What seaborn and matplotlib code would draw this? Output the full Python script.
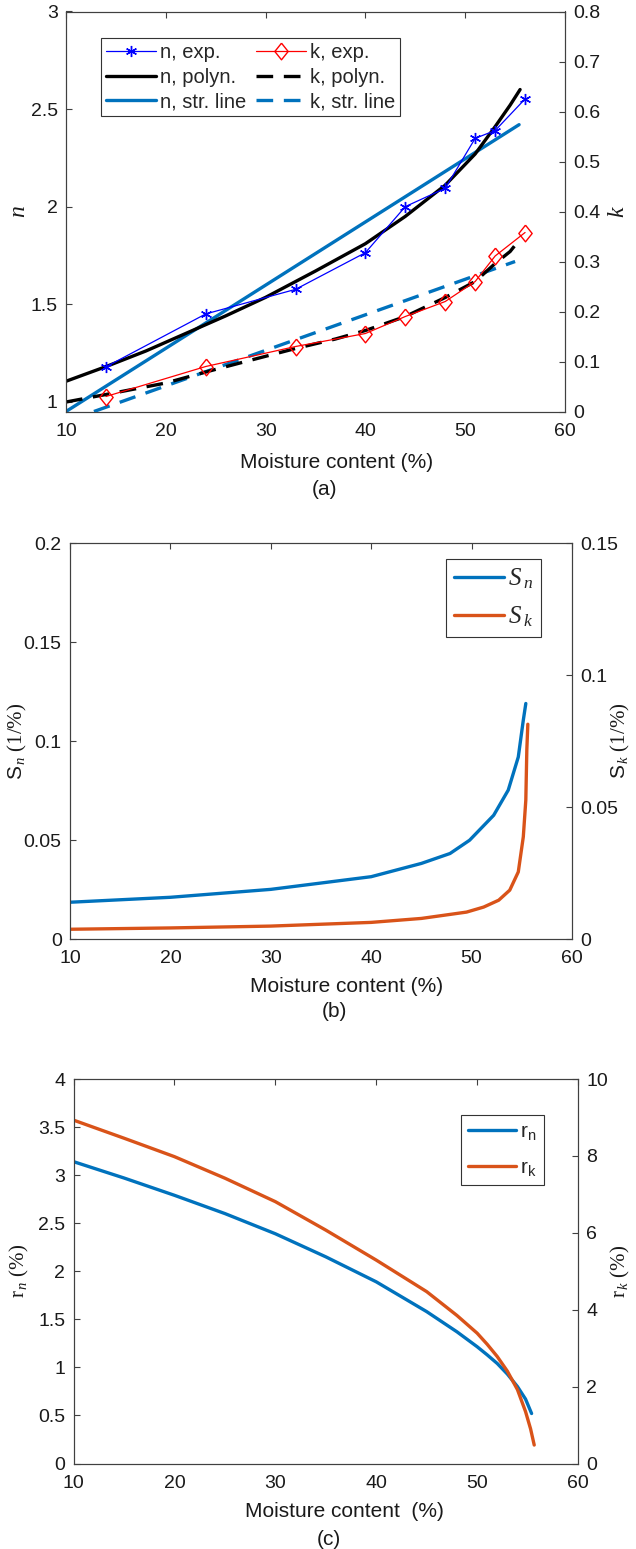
import matplotlib
matplotlib.use("Agg")
import matplotlib.pyplot as plt
from matplotlib.lines import Line2D
import seaborn as sns

# ---------------- data ----------------
# (a) refractive index n and extinction coefficient k vs moisture content
moist_exp = [14, 24, 33, 40, 44, 48, 51, 53, 56]
n_exp = [1.179, 1.45, 1.576, 1.764, 2.00, 2.094, 2.35, 2.39, 2.552]
k_exp = [0.030, 0.090, 0.130, 0.156, 0.190, 0.220, 0.260, 0.311, 0.358]

moist_n_poly = [10, 14, 18, 22, 26, 30, 35, 40, 44, 48, 51, 53, 54.5, 55.5]
n_poly = [1.105, 1.18, 1.26, 1.35, 1.44, 1.535, 1.67, 1.81, 1.95, 2.11, 2.27, 2.41, 2.52, 2.60]

moist_k_poly = [10, 14, 20, 24, 28, 33, 37, 40, 44, 48, 51, 53, 54.5, 55.5]
k_poly = [0.019, 0.034, 0.057, 0.079, 0.100, 0.126, 0.145, 0.162, 0.190, 0.228, 0.260, 0.296, 0.320, 0.345]

moist_n_line = [10, 55.4]
n_line = [0.95, 2.42]
moist_k_line = [12.8, 55.0]
k_line = [0.0, 0.30]

# (b) sensitivities
moist_sn = [10, 20, 30, 40, 45, 47.85, 49.8, 52.2, 53.65, 54.65, 55.15, 55.4]
s_n = [0.0187, 0.0212, 0.0252, 0.0316, 0.0383, 0.0433, 0.050, 0.0626, 0.0753, 0.092, 0.1106, 0.119]
moist_sk = [10, 20, 30, 40, 45, 49.5, 51.2, 52.7, 53.8, 54.65, 55.15, 55.4, 55.5, 55.6]
s_k = [0.0038, 0.0043, 0.0050, 0.0064, 0.0079, 0.0103, 0.0122, 0.0148, 0.0186, 0.0255, 0.0388, 0.0527, 0.0716, 0.0814]

# (c) relative errors
moist_rn = [10, 15, 20, 25, 30, 35, 40, 45, 48, 50, 51, 52, 53, 54, 54.8, 55.4]
r_n = [3.14, 2.97, 2.79, 2.60, 2.39, 2.15, 1.89, 1.58, 1.37, 1.215, 1.13, 1.04, 0.93, 0.80, 0.67, 0.52]
moist_rk = [10, 15, 20, 25, 30, 35, 40, 45, 48, 50, 51, 52, 53, 54, 54.8, 55.3, 55.66]
r_k = [8.93, 8.46, 7.98, 7.42, 6.81, 6.07, 5.29, 4.47, 3.85, 3.39, 3.10, 2.78, 2.40, 1.92, 1.35, 0.90, 0.48]

x_ticks = [10, 20, 30, 40, 50, 60]

# ---------------- style ----------------
sns.set_theme(style="white")
plt.rcParams.update({
    "font.family": ["Liberation Sans", "DejaVu Sans"],
    "mathtext.fontset": "custom",
    "mathtext.rm": "Liberation Serif",
    "mathtext.it": "Liberation Serif:italic",
    "mathtext.sf": "Liberation Sans",
    "axes.edgecolor": "#404040",
    "axes.linewidth": 0.8,
    "xtick.color": "#404040",
    "ytick.color": "#404040",
    "xtick.labelcolor": "#1a1a1a",
    "ytick.labelcolor": "#1a1a1a",
    "xtick.labelsize": 14,
    "ytick.labelsize": 14,
})

BLUE = "#0072BD"
ORANGE = "#D95319"
TXT = "#1a1a1a"
DIAMOND = [(0, 1), (0.8, 0), (0, -1), (-0.8, 0), (0, 1)]

fig = plt.figure(figsize=(6.36, 15.49), dpi=100)
W, H = 636.0, 1549.0


def make_axes(left, right, top, bottom):
    return fig.add_axes([left / W, 1 - bottom / H, (right - left) / W, (bottom - top) / H])


def style_pair(ax, ax2):
    ax.tick_params(axis="x", direction="in", top=True, length=4, width=0.8, pad=8)
    ax.tick_params(axis="y", direction="in", left=True, right=False, length=4, width=0.8, pad=6)
    ax2.tick_params(axis="y", direction="in", right=True, left=False, length=4, width=0.8, pad=6)
    ax.set_xlim(10, 60)
    ax.set_xticks(x_ticks)
    ax.set_xticklabels([str(v) for v in x_ticks])
    for a in (ax, ax2):
        for s in a.spines.values():
            s.set_visible(True)
            s.set_color("#404040")
            s.set_linewidth(0.8)


def bottom_labels(ax, xlab, xpos, lab_off, tag, tag_x, tag_off, height):
    ax.text(xpos, -lab_off / height, xlab, transform=ax.transAxes, ha="center",
            va="center", fontsize=15, color=TXT)
    ax.text(tag_x, -tag_off / height, tag, transform=ax.transAxes, ha="center",
            va="center", fontsize=15, color=TXT)


def frame(leg):
    leg.get_frame().set_linewidth(0.8)
    leg.get_frame().set_edgecolor("#333333")


# ================= (a) =================
axa = make_axes(66, 565, 11.5, 411.5)
axa2 = axa.twinx()
style_pair(axa, axa2)

sns.lineplot(x=moist_n_line, y=n_line, ax=axa, color=BLUE, lw=2.4, sort=False, estimator=None)
sns.lineplot(x=moist_n_poly, y=n_poly, ax=axa, color="black", lw=2.4, sort=False, estimator=None)
sns.lineplot(x=moist_exp, y=n_exp, ax=axa, color="#0000FF", lw=0.9, marker=(6, 2, 0),
             markersize=8, markeredgewidth=1.0, markeredgecolor="#0000FF", sort=False, estimator=None)

sns.lineplot(x=moist_k_line, y=k_line, ax=axa2, color=BLUE, lw=2.4, sort=False, estimator=None)
axa2.lines[-1].set_dashes([5, 3.2])
sns.lineplot(x=moist_k_poly, y=k_poly, ax=axa2, color="black", lw=2.4, sort=False, estimator=None)
axa2.lines[-1].set_dashes([5, 3.2])
sns.lineplot(x=moist_exp, y=k_exp, ax=axa2, color="#FF0000", lw=0.9, marker=DIAMOND,
             markersize=12, markerfacecolor="none", markeredgecolor="#FF0000",
             markeredgewidth=1.0, sort=False, estimator=None)

axa.set_ylim(0.95, 3)
axa.set_yticks([1, 1.5, 2, 2.5, 3])
axa.set_yticklabels(["1", "1.5", "2", "2.5", "3"])
axa2.set_ylim(0, 0.8)
axa2.set_yticks([0, 0.1, 0.2, 0.3, 0.4, 0.5, 0.6, 0.7, 0.8])
axa2.set_yticklabels(["0", "0.1", "0.2", "0.3", "0.4", "0.5", "0.6", "0.7", "0.8"])
axa.set_ylabel(r"$n$", fontsize=17, color=TXT)
axa.yaxis.set_label_coords(-0.072, 0.5)
axa2.set_ylabel(r"$k$", fontsize=17, color=TXT, rotation=90)
axa2.yaxis.set_label_coords(1.085, 0.5)
bottom_labels(axa, "Moisture content (%)", 0.543, 51, "(a)", 0.519, 78, 400)

handles_a = [
    Line2D([], [], color="#0000FF", lw=0.9, marker=(6, 2, 0), markersize=8, markeredgewidth=1.0),
    Line2D([], [], color="black", lw=2.4),
    Line2D([], [], color=BLUE, lw=2.4),
    Line2D([], [], color="#FF0000", lw=0.9, marker=DIAMOND, markersize=12, markerfacecolor="none",
           markeredgewidth=1.0),
    Line2D([], [], color="black", lw=2.4, dashes=[5, 3.2]),
    Line2D([], [], color=BLUE, lw=2.4, dashes=[5, 3.2]),
]
labels_a = ["n, exp.", "n, polyn.", "n, str. line", "k, exp.", "k, polyn.", "k, str. line"]
leg = axa2.legend(handles_a, labels_a, ncol=2, loc="upper left", bbox_to_anchor=(0.070, 0.934),
                  borderaxespad=0, fontsize=14.5, frameon=True, fancybox=False, framealpha=1,
                  handlelength=2.5, handletextpad=0.2, columnspacing=0.45,
                  labelspacing=0.28, borderpad=0.25)
frame(leg)

# ================= (b) =================
axb = make_axes(70, 572, 543, 939.3)
axb2 = axb.twinx()
style_pair(axb, axb2)
sns.lineplot(x=moist_sn, y=s_n, ax=axb, color=BLUE, lw=2.4, sort=False, estimator=None)
sns.lineplot(x=moist_sk, y=s_k, ax=axb2, color=ORANGE, lw=2.4, sort=False, estimator=None)
axb.set_ylim(0, 0.2)
axb.set_yticks([0, 0.05, 0.1, 0.15, 0.2])
axb.set_yticklabels(["0", "0.05", "0.1", "0.15", "0.2"])
axb2.set_ylim(0, 0.15)
axb2.set_yticks([0, 0.05, 0.1, 0.15])
axb2.set_yticklabels(["0", "0.05", "0.1", "0.15"])
axb.set_ylabel(r"$\mathsf{S}_{\,n}\ \mathrm{(1/\%)}$", fontsize=15, color=TXT)
axb.yaxis.set_label_coords(-0.082, 0.5)
axb2.set_ylabel(r"$\mathsf{S}_{\,k}\ \mathrm{(1/\%)}$", fontsize=15, color=TXT, rotation=90)
axb2.yaxis.set_label_coords(1.074, 0.5)
bottom_labels(axb, "Moisture content (%)", 0.55, 47, "(b)", 0.527, 72, 396.3)
handles_b = [Line2D([], [], color=BLUE, lw=2.4), Line2D([], [], color=ORANGE, lw=2.4)]
leg = axb2.legend(handles_b, [r"$S\,_{n}$", r"$S\,_{k}$"], loc="upper right",
                  bbox_to_anchor=(0.938, 0.96), borderaxespad=0, fontsize=18, frameon=True,
                  fancybox=False, framealpha=1, handlelength=2.0,
                  handletextpad=0.15, labelspacing=0.55, borderpad=0.3)
frame(leg)

# ================= (c) =================
axc = make_axes(73.6, 578, 1079, 1463.5)
axc2 = axc.twinx()
style_pair(axc, axc2)
sns.lineplot(x=moist_rn, y=r_n, ax=axc, color=BLUE, lw=2.4, sort=False, estimator=None)
sns.lineplot(x=moist_rk, y=r_k, ax=axc2, color=ORANGE, lw=2.4, sort=False, estimator=None)
axc.set_ylim(0, 4)
axc.set_yticks([0, 0.5, 1, 1.5, 2, 2.5, 3, 3.5, 4])
axc.set_yticklabels(["0", "0.5", "1", "1.5", "2", "2.5", "3", "3.5", "4"])
axc2.set_ylim(0, 10)
axc2.set_yticks([0, 2, 4, 6, 8, 10])
axc2.set_yticklabels(["0", "2", "4", "6", "8", "10"])
axc.set_ylabel(r"$\mathrm{r}_{\,n}\ \mathrm{(\%)}$", fontsize=15, color=TXT)
axc.yaxis.set_label_coords(-0.084, 0.5)
axc2.set_ylabel(r"$\mathrm{r}_{\,k}\ \mathrm{(\%)}$", fontsize=15, color=TXT, rotation=90)
axc2.yaxis.set_label_coords(1.062, 0.5)
bottom_labels(axc, "Moisture content  (%)", 0.537, 48, "(c)", 0.506, 76, 384.5)
handles_c = [Line2D([], [], color=BLUE, lw=2.4), Line2D([], [], color=ORANGE, lw=2.4)]
leg = axc2.legend(handles_c, [r"r$_\mathsf{n}$", r"r$_\mathsf{k}$"], loc="upper right",
                  bbox_to_anchor=(0.933, 0.906), borderaxespad=0, fontsize=15, frameon=True,
                  fancybox=False, framealpha=1, handlelength=2.3,
                  handletextpad=0.2, labelspacing=0.75, borderpad=0.35)
frame(leg)

for a in (axa, axb, axc, axa2, axb2, axc2):
    a.set_xlabel("")

fig.savefig("out.png", dpi=100, facecolor="white")
